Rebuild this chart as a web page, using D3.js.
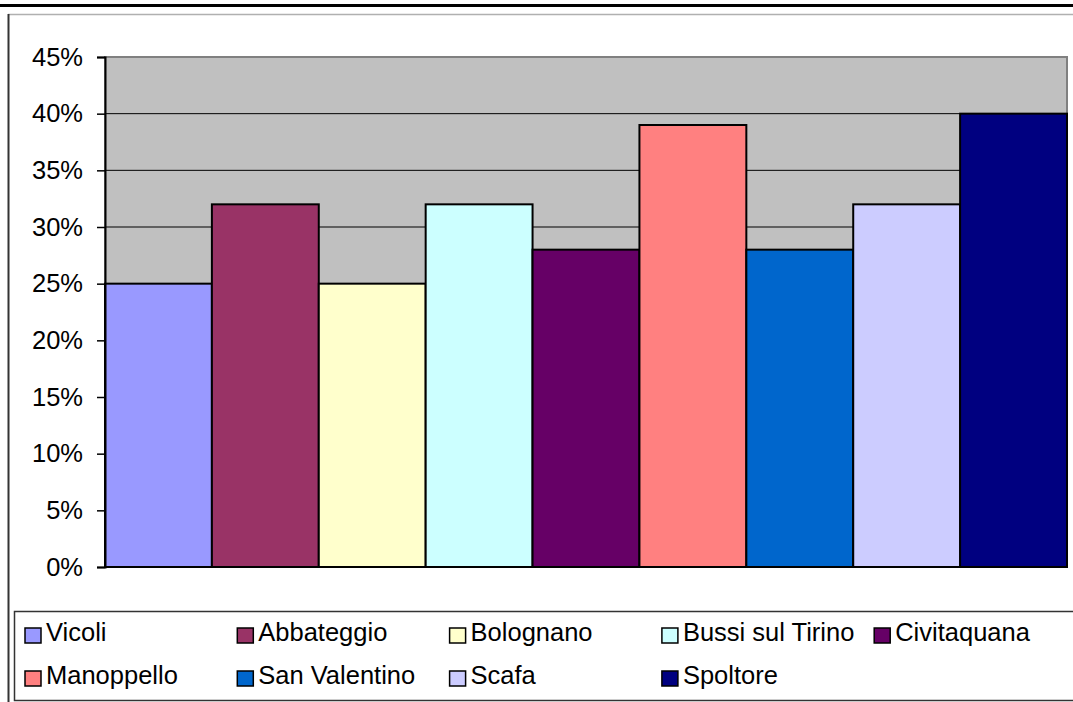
<!DOCTYPE html>
<html>
<head>
<meta charset="utf-8">
<script src="https://cdn.jsdelivr.net/npm/d3@7"></script>
<style>
  body { margin: 0; background: #fff; }
  svg { display: block; font-family: "Liberation Sans", Arial, sans-serif; }
</style>
</head>
<body>
<svg id="chart"></svg>
<script>
// bar chart, one bar per comune

var width = 1073;
var height = 702;

// data
var comuni = ["Vicoli", "Abbateggio", "Bolognano", "Bussi sul Tirino", "Civitaquana",
              "Manoppello", "San Valentino", "Scafa", "Spoltore"];
var valori = [0.25, 0.32, 0.25, 0.32, 0.28, 0.39, 0.28, 0.32, 0.40];
var colori = ["#9999FF", "#993366", "#FFFFCC", "#CCFFFF", "#660066",
              "#FF8080", "#0066CC", "#CCCCFF", "#000080"];
var tickValori = [0, 0.05, 0.10, 0.15, 0.20, 0.25, 0.30, 0.35, 0.40, 0.45];

// plot area
var plot = { left: 105, right: 1067, top: 57, bottom: 567 };
var fontSize = "25.5px";

var svg = d3.select("#chart")
    .attr("width", width)
    .attr("height", height);

// frame lines around the chart
svg.append("rect")
    .attr("x", 0).attr("y", 4)
    .attr("width", width).attr("height", 3)
    .style("fill", "#000");
svg.append("line")
    .attr("x1", 8).attr("x2", width)
    .attr("y1", 14.5).attr("y2", 14.5)
    .style("stroke", "#b0b0b0").style("stroke-width", 1.5);
svg.append("line")
    .attr("x1", 8.5).attr("x2", 8.5)
    .attr("y1", 14).attr("y2", height)
    .style("stroke", "#333").style("stroke-width", 2);

// scales
var x = d3.scaleBand()
    .domain(comuni)
    .range([plot.left, plot.right])
    .padding(0);
var y = d3.scaleLinear()
    .domain([0, 0.45])
    .range([plot.bottom, plot.top]);

// gray background
svg.append("rect")
    .attr("x", plot.left).attr("y", plot.top)
    .attr("width", plot.right - plot.left)
    .attr("height", plot.bottom - plot.top)
    .style("fill", "#C0C0C0")
    .style("stroke", "#808080")
    .style("stroke-width", 2);

// gridlines
svg.append("g").selectAll("line")
    .data(tickValori.slice(1, -1))
    .enter()
    .append("line")
    .attr("x1", plot.left).attr("x2", plot.right)
    .attr("y1", d => y(d)).attr("y2", d => y(d))
    .style("stroke", "#000")
    .style("stroke-width", 1);

// bars
var dati = comuni.map((c, i) => ({ nome: c, valore: valori[i], colore: colori[i] }));
svg.append("g").selectAll("rect")
    .data(dati)
    .enter()
    .append("rect")
    .attr("x", d => x(d.nome))
    .attr("y", d => y(d.valore))
    .attr("width", x.bandwidth())
    .attr("height", d => y(0) - y(d.valore))
    .style("fill", d => d.colore)
    .style("stroke", "#000")
    .style("stroke-width", 2);

// y axis
var yAxis = svg.append("g")
    .attr("transform", "translate(" + plot.left + ",0)")
    .call(d3.axisLeft(y)
        .tickValues(tickValori)
        .tickFormat(d3.format(".0%"))
        .tickSize(8)
        .tickPadding(14));
yAxis.select(".domain")
    .attr("stroke", "#000")
    .attr("stroke-width", 2);
yAxis.selectAll(".tick line").attr("stroke", "#000").attr("stroke-width", 1.5);
yAxis.selectAll("text")
    .style("font-size", fontSize)
    .style("font-family", "'Liberation Sans', Arial, sans-serif")
    .style("fill", "#000");

// x axis line
svg.append("line")
    .attr("x1", plot.left).attr("x2", plot.right)
    .attr("y1", y(0)).attr("y2", y(0))
    .style("stroke", "#000").style("stroke-width", 2);

// legend
svg.append("rect")
    .attr("x", 14.5).attr("y", 611.5)
    .attr("width", width).attr("height", 89)
    .style("fill", "#fff")
    .style("stroke", "#333")
    .style("stroke-width", 1.5);

var legend = svg.append("g").selectAll("g")
    .data(dati)
    .enter()
    .append("g")
    .attr("transform", (d, i) => "translate(" + (24 + (i % 5) * 212.3) + "," + (Math.floor(i / 5) * 43) + ")");

legend.append("rect")
    .attr("x", 1).attr("y", 628)
    .attr("width", 16).attr("height", 15)
    .style("fill", d => d.colore)
    .style("stroke", "#000")
    .style("stroke-width", 1.5);

legend.append("text")
    .attr("x", 22).attr("y", 641)
    .style("font-size", fontSize)
    .style("fill", "#000")
    .text(d => d.nome);
</script>
</body>
</html>
